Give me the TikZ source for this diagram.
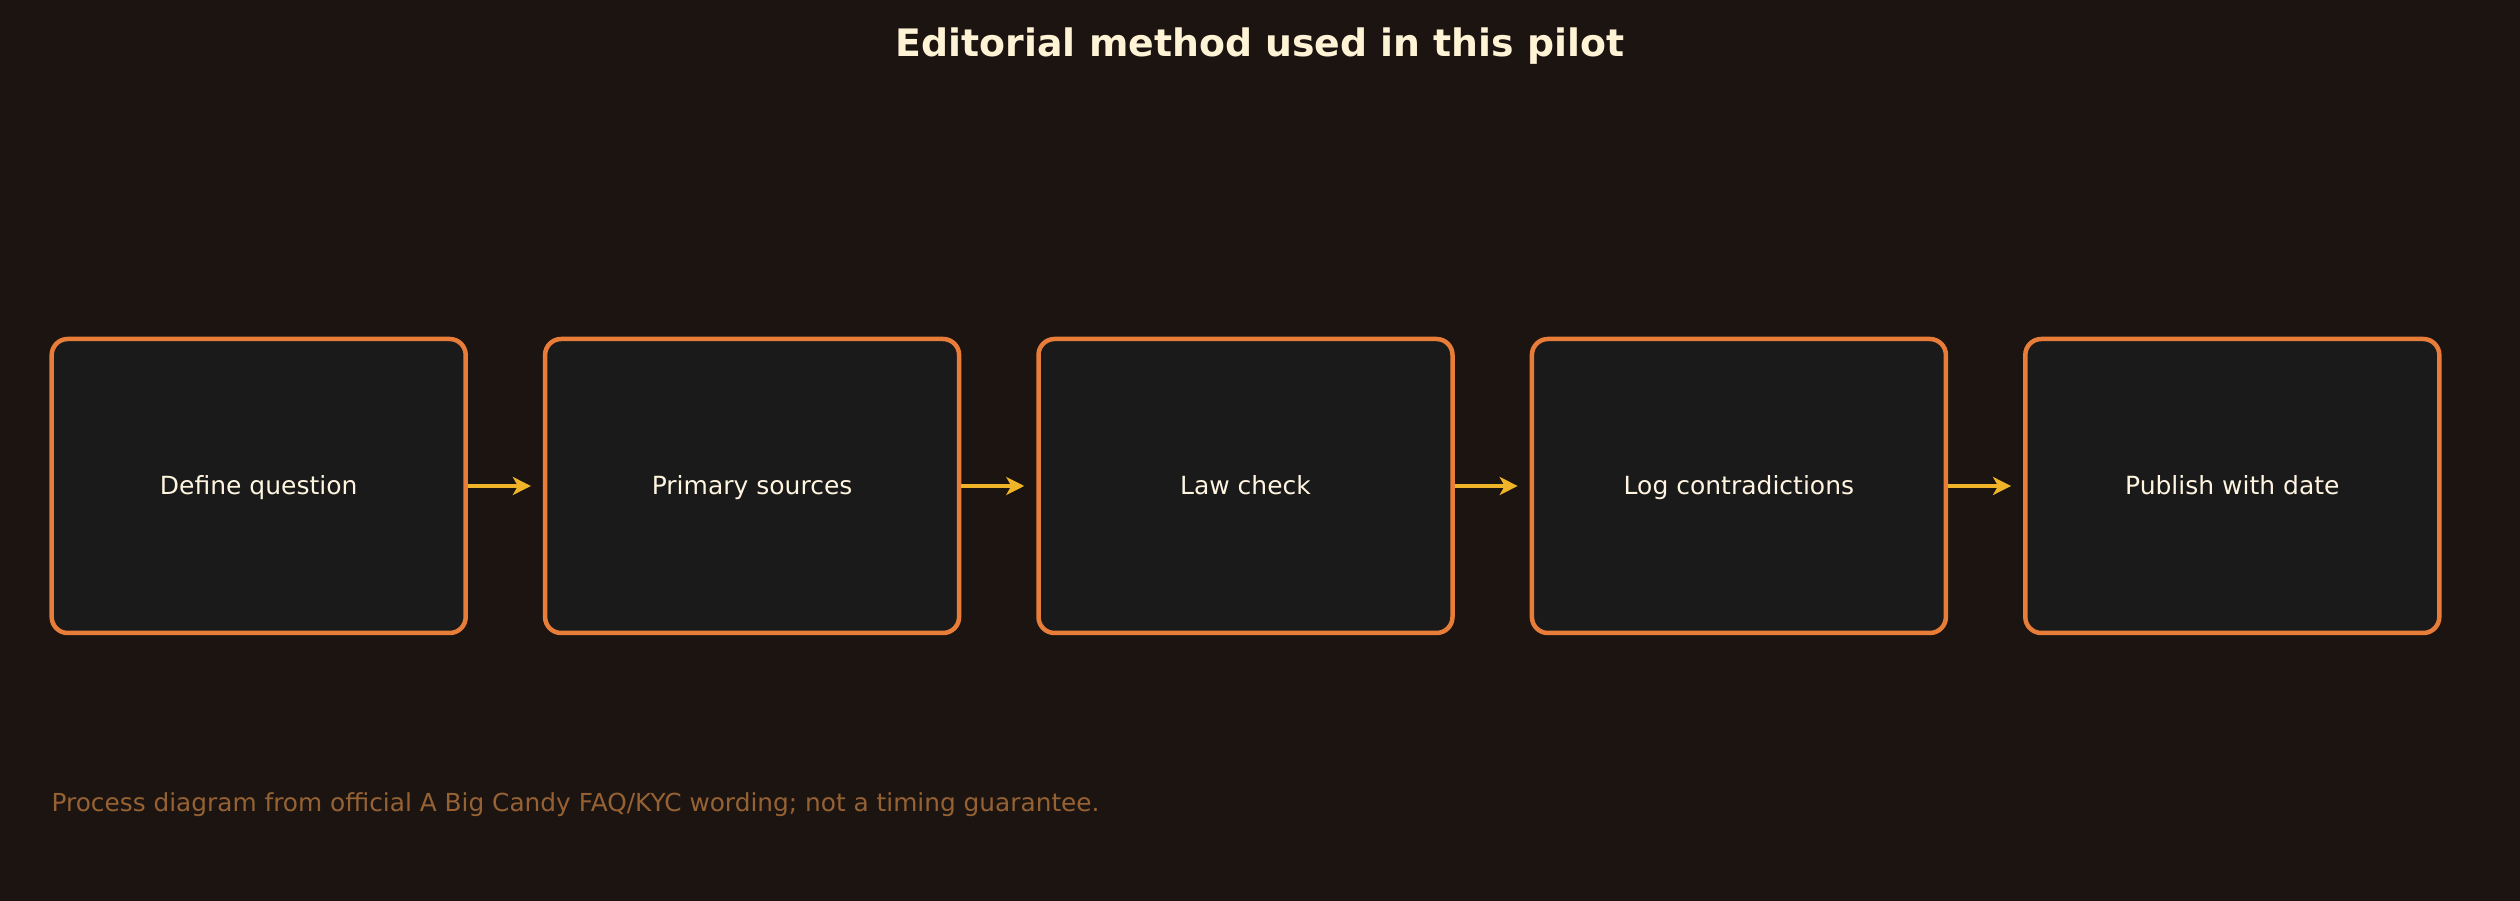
\documentclass[tikz,border=0pt]{standalone}
\usepackage{fontspec}
\setmainfont{DejaVu Sans}
\usetikzlibrary{arrows.meta}
\definecolor{bg}{RGB}{28,20,16}
\definecolor{boxfill}{RGB}{26,26,26}
\definecolor{boxline}{RGB}{232,125,58}
\definecolor{arrowc}{RGB}{240,180,40}
\definecolor{titlec}{RGB}{255,243,214}
\definecolor{labelc}{RGB}{255,245,224}
\definecolor{footc}{RGB}{150,98,52}
\tikzset{
  stepbox/.style={draw=boxline, line width=4.5pt, fill=boxfill, rounded corners=16pt,
    minimum width=414pt, minimum height=294pt, inner sep=0pt,
    text=labelc, font=\fontsize{25}{30}\selectfont, text height=20pt, text depth=3pt},
  flowarrow/.style={draw=arrowc, line width=4pt, -{Stealth[length=18pt,width=18pt,inset=5pt]}, shorten >=12pt},
  titletext/.style={text=titlec, font=\fontsize{37.8}{45}\selectfont\bfseries},
  foottext/.style={text=footc, font=\fontsize{24.8}{30}\selectfont, anchor=west, inner sep=0pt}
}
\begin{document}
\begin{tikzpicture}[x=1pt,y=1pt]
\useasboundingbox (0,0) rectangle (2520,900);
\fill[bg] (-10,-10) rectangle (2530,910);
\node[titletext] (title) at (1260,854) {Editorial method used in this pilot};
\node[stepbox] (s1) at (258.7,414) {Define question};
\node[stepbox] (s2) at (752.1,414) {Primary sources};
\node[stepbox] (s3) at (1245.5,414) {Law check};
\node[stepbox] (s4) at (1738.9,414) {Log contradictions};
\node[stepbox] (s5) at (2232.3,414) {Publish with date};
\draw[flowarrow] (s1.east) -- (s2.west);
\draw[flowarrow] (s2.east) -- (s3.west);
\draw[flowarrow] (s3.east) -- (s4.west);
\draw[flowarrow] (s4.east) -- (s5.west);
\node[foottext] (foot) at (51.4,95) {Process diagram from official A Big Candy FAQ/KYC wording; not a timing guarantee.};
\end{tikzpicture}
\end{document}
